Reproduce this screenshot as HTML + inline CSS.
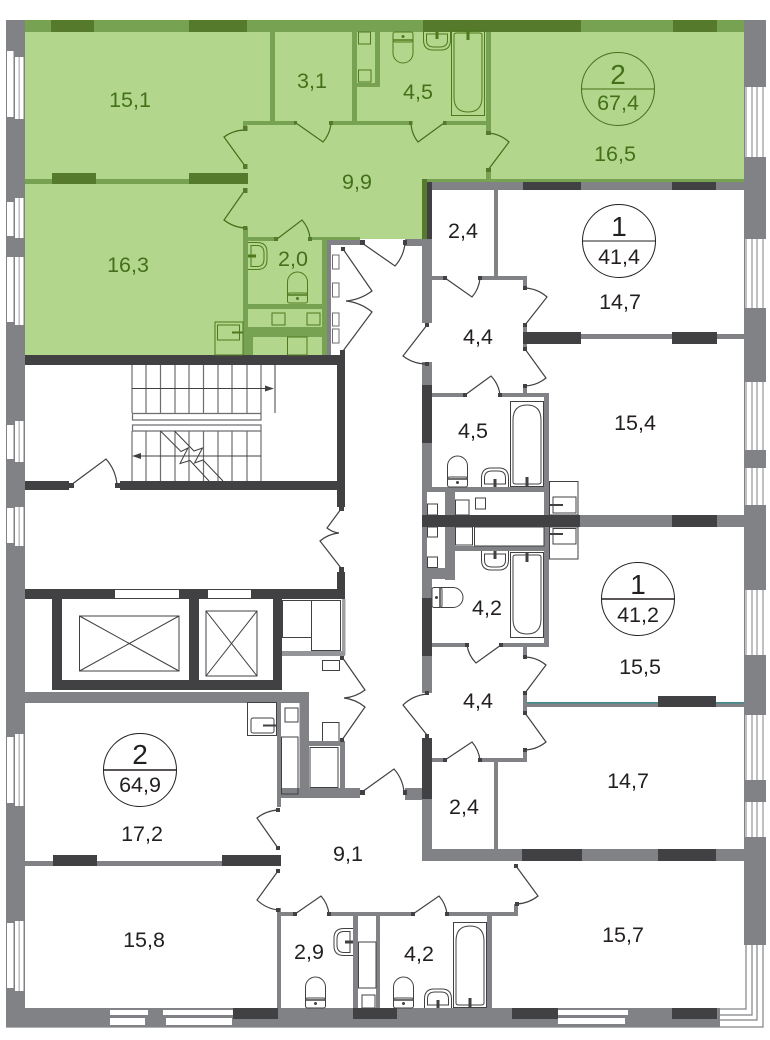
<!DOCTYPE html>
<html><head><meta charset="utf-8"><style>
html,body{margin:0;padding:0;background:#fff}
svg{display:block}
text{font-family:"Liberation Sans",sans-serif;font-size:21.5px;text-anchor:middle;fill:#231f20}
text.g{fill:#44701a}
text.b{font-size:28px}
.d{fill:none;stroke:#414042;stroke-width:1.2}
.dg{fill:none;stroke:#44701a;stroke-width:1.2}
</style></head><body>
<svg width="770" height="1040" viewBox="0 0 770 1040" xmlns="http://www.w3.org/2000/svg">
<defs>
<g id="toilet" fill="none" stroke="currentColor"><path d="M.5 22V10a10 10 0 0 1 20 0V22"/><rect x=".5" y="21" width="20" height="10" rx="2"/><path d="M.5 23H20.5" stroke-width="1.5"/><circle cx="10.5" cy="26.5" r="1" fill="currentColor"/></g>
<g id="sink" fill="none" stroke="currentColor"><path d="M.5 20V11Q.5 1 10 1H18Q27.5 1 27.5 11V20"/><path d="M3.5 17V11Q3.5 4 11 4H17Q24.5 4 24.5 11V17Z"/><path d="M14 12V20" stroke-width="3"/></g>
<g id="bath" fill="none" stroke="currentColor"><rect x=".5" y=".5" width="33" height="85"/><path d="M3 81V19Q3 4 17 4Q31 4 31 19V81Q31 83 28 83H6Q3 83 3 81Z"/><path d="M17 76V85" stroke-width="3"/></g>
<g id="wb" fill="none" stroke="currentColor"><rect x=".5" y=".5" width="29" height="33"/><rect x="4" y="16" width="23" height="15" rx="2"/><path d="M16 23.5H29" stroke-width="2"/></g>
</defs>

<!-- exterior walls -->
<path fill="#808285" d="M6 20h19v1007H6zM6 1008h714v19H6zM744 20h22v925h-22z"/>

<!-- windows -->
<path fill="#fff" d="M7 51h6.5v66H7zM15 57h3.700v62H15zM19.500 57h4v62h-4zM7 202h6.500v34H7zM15 198h3.700v40H15zM19.500 198h4v40h-4zM7 257h6.500v65H7zM15 257h3.700v68H15zM19.500 257h4v68h-4zM7 425h6.500v34H7zM15 421h3.700v41H15zM19.500 421h4v41h-4zM7 508h6.500v35H7zM15 507h3.700v39H15zM19.500 507h4v39h-4zM7 737h6.500v66H7zM15 734h3.700v72H15zM19.500 734h4v72h-4zM7 923h6.500v65H7zM15 921h3.700v70H15zM19.500 921h4v70h-4z"/>
<path fill="#fff" d="M745 87h22v70h-22zM745 239h22v69h-22zM745 382h22v68h-22zM745 468h22v37h-22zM745 590h22v65h-22zM745 715h22v65h-22zM745 802h22v35h-22zM745 945h25v85h-25z"/>
<path fill="none" stroke="#808285" d="M746 87V157M752 87V157M757 87V157M763 87V157M746 239V308M752 239V308M757 239V308M763 239V308M746 382V450M752 382V450M757 382V450M763 382V450M746 468V505M752 468V505M757 468V505M763 468V505M746 590V655M752 590V655M757 590V655M763 590V655M746 715V780M752 715V780M757 715V780M763 715V780M746 802V837M752 802V837M757 802V837M763 802V837"/>
<path fill="#fff" d="M110 1010h38v5h-38zM110 1018h35v7h-35zM163 1010h70v5h-70zM166 1018h66v7h-66zM558 1010h70v5h-70zM558 1018h67v6h-67zM720 1010h28v18h-28z"/>
<path fill="none" stroke="#808285" stroke-width="1.2" d="M717 1009H746V945M720 1015H752V945M720 1020H757V945M6 1027H763V945"/>

<!-- core walls and lifts -->
<path fill="#414042" d="M25 355h320v10H25zM337 355h8v152h-8zM25 481h44v9H25zM120 481h218v9H120zM337 572h8v27h-8zM25 589h320v10H25zM52 589h230v101H52z"/>
<path fill="#fff" d="M115 590h64v8h-64zM208 590h43v8h-43zM62 599h127v81H62zM199 599h74v81h-74z"/>
<path fill="none" stroke="#414042" d="M79.500 616h99.500v55H79.500zM79.500 616L179 671M179 616L79.500 671M206 611h51v65h-51zM206 611L257 676M257 611L206 676"/>

<!-- stairs -->
<path fill="none" stroke="#6d6e71" stroke-width="1.2" d="M132 365V413M146 365V413M160.500 365V413M175 365V413M189 365V413M203.500 365V413M218 365V413M232 365V413M247 365V413M261 365V413M132 431V481M146 431V481M160.500 431V481M175 431V481M189 431V481M203.500 431V481M218 431V481M232 431V481M247 431V481M261 431V481M132.500 413.500h128.500v6.500H132.500zM132.500 425h128.500v6H132.500z"/>
<path fill="none" stroke="#414042" d="M275 365V413M132 388.500H268M140 456H261M160.500 431L181 451.500L188 448L180 463.500L190 460.500L209 481M174.500 431L194 451L202.500 448L194.500 463L203 460L223 481"/>
<path fill="#414042" d="M265 385.500L274 388.500L265 391.500ZM141 453L132 456L141 459Z"/>

<!-- lift-side boxes -->
<path fill="#a0a1a4" d="M342 599h3.500v56H342z"/>
<path fill="#939598" d="M282 651h63v5h-63z"/>
<path fill="none" stroke="#414042" d="M282.500 600.500h29v37h-29zM311.500 600.500h29v50h-29zM322.500 660.500h17v10h-17zM322.500 722.500h16.500v19h-16.500zM310 747.500h28v40h-28z"/>

<!-- grey interior walls -->
<path fill="#808285" d="M25 692h284v11H25zM299.500 692h9.500v106h-9.500zM277 703h4v104h-4zM277 788h83v10h-83zM309 741h36v5h-36zM340 741h5v50h-5zM405 788h20v12h-20zM25 861h255v5H25zM277 908h4v100h-4zM278 912h17v4h-17zM329 912h84v4h-84zM447 912h71v4h-71zM514 904h4v12h-4zM353 916h5v92h-5zM376 916h4v92h-4zM487 916h5v92h-5zM422 239h10v84h-10zM405 239h27v7h-27zM432 182h312v8H432zM494 190h4v86h-4zM432 276h13v4h-13zM480 276h47v4h-47zM523 276h4v12h-4zM523 386h4v10h-4zM523 325h4v24h-4zM527 334h217v5H527zM422 362h10v130h-10zM422 492h5v76h-5zM422 568h10v32h-10zM432 393h33v4h-33zM500 393h49v4h-49zM544 393h5v254h-5zM427 487h117v5H427zM445 492h10v88h-10zM427 568h28v11h-28zM455 546h89v5h-89zM549 515h195v12H549zM432 643h34v4h-34zM501 643h48v4h-48zM523 647h4v10h-4zM422 656h10v37h-10zM523 693h4v20h-4zM527 703h217v4H527zM523 750h4v12h-4zM432 758h13v4h-13zM480 758h47v4h-47zM422 799h10v62h-10zM494 762h4v88h-4zM422 849h322v12H422z"/>
<path fill="#3f8a8a" d="M527 702h217v1.500H527z"/>

<!-- dark wall accents -->
<path fill="#414042" d="M422 385h10v58h-10zM422 598h10v58h-10zM422 738h10v61h-10zM523 182h58v8h-58zM672 180h44v10h-44zM523 332h58v12h-58zM672 332h45v12h-45zM422 515h158v12H422zM672 515h45v12h-45zM658 696h58v11h-58zM522 849h60v12h-60zM658 849h58v12h-58zM53 855h44v11H53zM222 855h59v11h-59zM233 1008h45v11h-45zM353 1008h44v11h-44zM512 1008h46v11h-46zM672 1008h45v11h-45z"/>

<!-- fixtures in white rooms -->
<path fill="none" stroke="#414042" d="M427.500 504h10v11h-10zM427.500 527h10v10h-10zM427.500 557h10v10.500h-10zM455.500 500h13.500v15h-13.500zM475.500 498h10v11h-10zM455.500 527h17v18h-17zM474.500 527h69.500v19h-69.500zM549.500 481.500h28.500v33.500h-28.500zM553 497h23v16h-23zM549.500 527h28.500v32h-28.500zM553 528.500h23v15.500h-23zM285 708h13v14h-13zM281.500 737h16.500v57h-16.500zM358.500 942h17.500v46h-17.500zM362 995h13v13h-13z"/>
<path d="M550 505H563M550 534H563" stroke="#414042" stroke-width="2" fill="none"/>

<use href="#wb" x="247" y="702" color="#414042"/>
<use href="#bath" x="510" y="401" color="#414042"/>
<use href="#bath" transform="translate(510 638) scale(1 -1)" color="#414042"/>
<use href="#bath" x="453" y="922" color="#414042"/>
<use href="#sink" x="481" y="467" color="#414042"/>
<use href="#sink" transform="translate(481 571) scale(1 -1)" color="#414042"/>
<use href="#sink" x="424" y="988" color="#414042"/>
<use href="#sink" transform="translate(333 956) rotate(-90)" color="#414042"/>
<use href="#toilet" x="447" y="456" color="#414042"/>
<use href="#toilet" x="305" y="977" color="#414042"/>
<use href="#toilet" x="393" y="977" color="#414042"/>
<use href="#toilet" transform="translate(463 587) rotate(90)" color="#414042"/>

<!-- green apartment -->
<path d="M25 32H744V179H422V239H330V355H25Z" fill="#b2d68b"/>
<path fill="#76a251" d="M25 20h719v12H25zM25 179h223v5H25zM270 32h5v90h-5zM243 121h53v4h-53zM331 121h80v4h-80zM444 121h47v4h-47zM352 32h5v90h-5zM375 32h5v55h-5zM357 83h23v4h-23zM486 32h5v101h-5zM243 125h4v6h-4zM243 228h5v127h-5zM248 237h28v4h-28zM310 237h50v3h-50zM322 240h5v115h-5zM248 304h74v5h-74zM248 327h74v10h-74zM248 337h5v18h-5zM486 170h5v9h-5zM422 179h322v3H422z"/>
<path fill="#808285" d="M327 240h33v5h-33zM327 245h4v110h-4z"/>
<path fill="#557a2c" d="M51 20h43v12H51zM189 20h58v12h-58zM423 20h158v12H423zM673 20h44v12h-44zM52 173h44v11H52zM189 173h59v11h-59zM422 179h5v60h-5z"/>
<path fill="#414042" d="M427 182h5v57h-5zM25 355h320v10H25zM340 350h5v10h-5z"/>

<!-- green fixtures -->
<path fill="none" stroke="#4e7a1e" d="M358.500 32h12v12h-12zM358.500 70h12.500v12h-12.500zM272 313h13v12h-13zM307 313h13v12h-13zM287.500 337h19.500v18h-19.500zM215 322h28v33h-28zM217.500 325h22v15h-22z"/>
<path d="M232 332.500H243" stroke="#4e7a1e" stroke-width="2"/>
<use href="#bath" transform="translate(451 116) scale(1 -1)" color="#4e7a1e"/>
<use href="#sink" transform="translate(423 51) scale(1 -1)" color="#4e7a1e"/>
<use href="#toilet" transform="translate(413.500 63) rotate(180)" color="#4e7a1e"/>
<use href="#toilet" x="287" y="272" color="#4e7a1e"/>
<use href="#sink" transform="translate(268 242) rotate(90)" color="#4e7a1e"/>

<!-- corridor closet rects -->
<path fill="none" stroke="#6d6e71" d="M332.500 255h6.500v14h-6.500zM332.500 283h6.500v14h-6.500zM332.500 313h6.500v13h-6.500zM332.500 329h6.500v14h-6.500z"/>

<!-- doors -->
<path class="dg" d="M245 166L224 137A36 36 0 0 1 245 130M245 190L224 220A37 37 0 0 0 245 228M277 239L302 220A32 32 0 0 1 310 238M296 123L323 142A33 33 0 0 0 331 123M444 123L418 142A32 32 0 0 1 411 123M488 170L509 142A35 35 0 0 0 488 133"/>
<path fill="#557a2c" d="M243 164h4.500v5H243zM243 188h4.500v5H243zM243 226h4.500v4H243zM243 126h4.500v5H243zM274 237h4v4h-4zM308 237h4v4h-4zM294 121h3v3.500h-3zM329 121h4v4h-4zM409 121h3.500v4H409zM443 121h3.500v4H443zM486 131h5v4h-5zM486 168h5v4h-5z"/>
<path class="d" d="M362 243L395 266A40 40 0 0 0 405 243M343 249L372 291A51 51 0 0 1 346 301M343 351L372 312A49 49 0 0 0 346 301M341 509L327 528A24 24 0 0 0 339 533M341 568L320 541A34 34 0 0 1 339 533M71 485L106 459A44 44 0 0 1 117 485M342 657L365 690A40 40 0 0 1 344 698M342 740L365 707A41 41 0 0 0 344 698M362 792L394 769A40 40 0 0 1 404 792M445 278L472 297A33 33 0 0 0 480 278M525 325L547 297A36 36 0 0 0 525 288M427 325L403 356A39 39 0 0 0 427 364M525 349L546 378A36 36 0 0 1 525 386M465 395L491 376A33 33 0 0 1 500 395M501 645L476 663A32 32 0 0 1 467 645M525 693L546 665A35 35 0 0 0 525 657M525 713L546 742A36 36 0 0 1 525 750M427 735L403 705A40 40 0 0 1 427 694M445 760L472 742A34 34 0 0 1 480 760M278 848L257 818A37 37 0 0 1 278 810M278 871L257 900A37 37 0 0 0 278 910M295 914L321 896A33 33 0 0 1 329 914M413 914L439 896A33 33 0 0 1 447 914M516 866L538 896A37 37 0 0 1 517 904"/>
<path fill="#414042" d="M360 240h5v5h-5zM403 240h4v5h-4zM341 247h4v4h-4zM339 507h5v4h-5zM339 567h5v5h-5zM69 483h5v5h-5zM115 483h5v5h-5zM340 656h4v4h-4zM340 738h4v4h-4zM360 790h5v5h-5zM403 790h4v5h-4zM443 276h4v4h-4zM478 276h4v4h-4zM523 286h4v4h-4zM523 323h4v4h-4zM425 323h4v4h-4zM425 362h4v4h-4zM523 347h4v4h-4zM523 384h4v4h-4zM463 393h4v4h-4zM498 393h4v4h-4zM465 643h4v4h-4zM499 643h4v4h-4zM523 655h4v4h-4zM523 691h4v4h-4zM523 711h4v4h-4zM523 748h4v4h-4zM425 691h4v4h-4zM425 734h4v4h-4zM443 758h4v4h-4zM478 758h4v4h-4zM276 808h4v4h-4zM276 846h4v4h-4zM276 869h4v4h-4zM276 908h4v4h-4zM293 912h4v4h-4zM327 912h4v4h-4zM411 912h4v4h-4zM445 912h4v4h-4zM514 864h4v4h-4zM515 902h4v4h-4z"/>

<!-- badges -->
<g fill="none">
<circle cx="618" cy="89" r="36.5" stroke="#44701a"/>
<path d="M581.500 89H654.500" stroke="#44701a"/>
<circle cx="619" cy="241" r="36.5" stroke="#231f20"/>
<path d="M582.500 241H655.500" stroke="#231f20"/>
<circle cx="638" cy="599" r="36.5" stroke="#231f20"/>
<path d="M601.500 599H674.500" stroke="#231f20" stroke-width="1.5"/>
<circle cx="140" cy="770" r="36.5" stroke="#231f20"/>
<path d="M103.500 770H176.500" stroke="#231f20" stroke-width="1.5"/>
</g>
<text class="g b" x="618" y="84">2</text>
<text class="g" x="618" y="110">67,4</text>
<text class="b" x="619" y="236">1</text>
<text x="619" y="264">41,4</text>
<text class="b" x="638" y="594">1</text>
<text x="638" y="622">41,2</text>
<text class="b" x="140" y="764">2</text>
<text x="140" y="792">64,9</text>

<!-- room labels -->
<text class="g" x="130" y="107">15,1</text>
<text class="g" x="312" y="88">3,1</text>
<text class="g" x="418" y="99">4,5</text>
<text class="g" x="615" y="161">16,5</text>
<text class="g" x="357" y="189">9,9</text>
<text class="g" x="128" y="272">16,3</text>
<text class="g" x="293" y="266">2,0</text>
<text x="463" y="238">2,4</text>
<text x="620" y="309">14,7</text>
<text x="478" y="344">4,4</text>
<text x="473" y="438">4,5</text>
<text x="635" y="430">15,4</text>
<text x="487" y="615">4,2</text>
<text x="640" y="674">15,5</text>
<text x="478" y="708">4,4</text>
<text x="628" y="788">14,7</text>
<text x="464" y="814">2,4</text>
<text x="142" y="841">17,2</text>
<text x="144" y="947">15,8</text>
<text x="348" y="861">9,1</text>
<text x="309" y="959">2,9</text>
<text x="419" y="961">4,2</text>
<text x="623" y="942">15,7</text>
</svg>
</body></html>
